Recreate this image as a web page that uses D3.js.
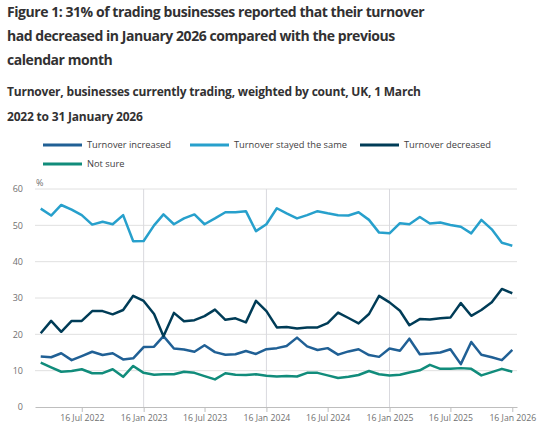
<!DOCTYPE html>
<html>
<head>
<meta charset="utf-8">
<script src="https://cdn.jsdelivr.net/npm/d3@7"></script>
<style>
  body { margin: 0; background: #fff; }
  svg { font-family: "Open Sans", sans-serif; }
</style>
</head>
<body>
<svg width="550" height="441"></svg>
<script>
// months (plotted on the 16th)
const months = [
  "2022-03", "2022-04", "2022-05", "2022-06", "2022-07", "2022-08", "2022-09", "2022-10", "2022-11", "2022-12",
  "2023-01", "2023-02", "2023-03", "2023-04", "2023-05", "2023-06", "2023-07", "2023-08", "2023-09", "2023-10", "2023-11", "2023-12",
  "2024-01", "2024-02", "2024-03", "2024-04", "2024-05", "2024-06", "2024-07", "2024-08", "2024-09", "2024-10", "2024-11", "2024-12",
  "2025-01", "2025-02", "2025-03", "2025-04", "2025-05", "2025-06", "2025-07", "2025-08", "2025-09", "2025-10", "2025-11", "2025-12",
  "2026-01"
];

const increased = [13.9, 13.7, 14.8, 12.9, 14.0, 15.2, 14.3, 14.8, 13.1, 13.4,
  16.5, 16.6, 19.5, 16.1, 15.8, 15.2, 17.0, 15.1, 14.4, 14.5, 15.4, 14.6,
  15.9, 16.2, 16.8, 19.1, 16.7, 15.7, 16.2, 14.4, 15.3, 15.9, 14.3, 13.8,
  16.1, 15.5, 18.8, 14.5, 14.7, 15.0, 15.9, 11.8, 17.9, 14.4, 13.7, 12.9,
  15.7];

const stayedSame = [54.6, 52.7, 55.6, 54.3, 52.8, 50.2, 51.0, 50.3, 52.8, 45.6,
  45.7, 50.0, 53.0, 50.3, 51.9, 53.0, 50.3, 51.9, 53.6, 53.6, 53.9, 48.4,
  50.3, 54.7, 53.3, 51.9, 52.8, 53.9, 53.3, 52.8, 52.7, 53.6, 51.5, 48.0,
  47.8, 50.6, 50.3, 52.3, 50.5, 50.8, 50.1, 49.6, 47.8, 51.5, 48.9, 45.2,
  44.4];

const decreased = [20.3, 23.7, 20.7, 23.7, 23.7, 26.4, 26.4, 25.5, 26.7, 30.6,
  29.2, 25.6, 19.5, 25.9, 23.6, 23.9, 25.0, 26.8, 24.0, 24.4, 23.3, 29.2,
  26.4, 21.9, 22.0, 21.6, 21.9, 21.9, 23.1, 26.0, 24.5, 23.0, 25.6, 30.6,
  28.8, 26.5, 22.5, 24.2, 24.1, 24.4, 24.6, 28.6, 25.1, 26.7, 28.8, 32.5,
  31.3];

const notSure = [12.2, 10.9, 9.7, 9.9, 10.4, 9.3, 9.3, 10.4, 8.3, 11.3,
  9.4, 8.9, 9.0, 9.0, 9.7, 9.4, 8.5, 7.6, 9.3, 8.9, 8.8, 9.0,
  8.6, 8.4, 8.5, 8.4, 9.4, 9.4, 8.7, 8.0, 8.3, 8.8, 9.9, 9.0,
  8.7, 8.9, 9.5, 10.1, 11.6, 10.5, 10.5, 10.7, 10.5, 8.7, 9.6, 10.5,
  9.7];

const seriesNames = ["Turnover increased", "Turnover stayed the same", "Turnover decreased", "Not sure"];
const seriesColors = ["#206095", "#27a0cc", "#003c57", "#118c7b"];
const yTicks = [0, 10, 20, 30, 40, 50, 60];
const xTickDates = ["2022-07-16", "2023-01-16", "2023-07-16", "2024-01-16", "2024-07-16", "2025-01-16", "2025-07-16", "2026-01-16"];

const parseDay = d3.timeParse("%Y-%m-%d");
const dates = months.map(m => parseDay(m + "-16"));
const allSeries = [increased, stayedSame, decreased, notSure];

const svg = d3.select("svg");

// titles
const title = ["Figure 1: 31% of trading businesses reported that their turnover",
  "had decreased in January 2026 compared with the previous",
  "calendar month"];
svg.selectAll(".title").data(title).enter().append("text")
  .attr("class", "title")
  .attr("x", 7)
  .attr("y", (d, i) => 17 + i * 24)
  .attr("font-size", "14px")
  .attr("letter-spacing", "-0.45px")
  .attr("font-weight", "bold")
  .attr("fill", "#323132")
  .text(d => d);

const subtitle = ["Turnover, businesses currently trading, weighted by count, UK, 1 March",
  "2022 to 31 January 2026"];
svg.selectAll(".subtitle").data(subtitle).enter().append("text")
  .attr("class", "subtitle")
  .attr("x", 7)
  .attr("y", (d, i) => 95.5 + i * 25)
  .attr("font-size", "12px")
  .attr("letter-spacing", "-0.2px")
  .attr("font-weight", "bold")
  .attr("fill", "#323132")
  .text(d => d);

// legend
const legendPos = [[43, 145], [190, 145], [360, 145], [43, 164]];
const legend = svg.selectAll(".legend").data(seriesNames).enter().append("g")
  .attr("class", "legend")
  .attr("transform", (d, i) => "translate(" + legendPos[i][0] + "," + legendPos[i][1] + ")");
legend.append("line")
  .attr("x1", 0).attr("x2", 39)
  .attr("stroke", (d, i) => seriesColors[i])
  .attr("stroke-width", 3);
legend.append("text")
  .attr("x", 44)
  .attr("dy", "0.35em")
  .attr("font-size", "9.3px")
  .attr("fill", "#414042")
  .text(d => d);

// scales
const x = d3.scaleTime()
  .domain([parseDay("2022-02-27"), parseDay("2026-01-30")])
  .range([35, 517]);
const y = d3.scaleLinear().domain([0, 60]).range([407, 189]);

// horizontal grid
svg.append("g")
  .selectAll("line").data(yTicks.filter(t => t > 0)).enter().append("line")
  .attr("x1", 35).attr("x2", 517)
  .attr("y1", d => y(d)).attr("y2", d => y(d))
  .attr("stroke", "#e0e0e0");

// vertical lines at january ticks
svg.append("g")
  .selectAll("line").data(xTickDates.slice(0, -1).filter(d => d.slice(5, 7) === "01")).enter().append("line")
  .attr("x1", d => x(parseDay(d))).attr("x2", d => x(parseDay(d)))
  .attr("y1", y(60)).attr("y2", y(0))
  .attr("stroke", "#d9d9de");

// y axis labels
const yAxis = svg.append("g")
  .attr("transform", "translate(23,0)")
  .call(d3.axisLeft(y).tickValues(yTicks).tickSize(0).tickPadding(0));
yAxis.select(".domain").remove();
yAxis.selectAll("text")
  .attr("font-family", "Open Sans, sans-serif")
  .attr("font-size", "9px")
  .attr("fill", "#707070");

svg.append("text")
  .attr("x", 36).attr("y", 186)
  .attr("font-size", "9px")
  .attr("fill", "#707070")
  .text("%");

// x axis
const xAxis = svg.append("g")
  .attr("transform", "translate(0," + y(0) + ")")
  .call(d3.axisBottom(x)
    .tickValues(xTickDates.map(parseDay))
    .tickFormat(d3.timeFormat("%d %b %Y"))
    .tickSize(5)
    .tickSizeOuter(0)
    .tickPadding(3));
xAxis.select(".domain").attr("stroke", "#bebebe");
xAxis.selectAll(".tick line").attr("stroke", "#bebebe");
xAxis.selectAll("text")
  .attr("font-family", "Open Sans, sans-serif")
  .attr("font-size", "8.7px")
  .attr("fill", "#707070");

// lines
const line = d3.line()
  .x((d, i) => x(dates[i]))
  .y(d => y(d));

svg.append("g")
  .selectAll("path").data(allSeries).enter().append("path")
  .attr("d", d => line(d))
  .attr("fill", "none")
  .attr("stroke", (d, i) => seriesColors[i])
  .attr("stroke-width", 2.5)
  .attr("stroke-linejoin", "round");
</script>
</body>
</html>
